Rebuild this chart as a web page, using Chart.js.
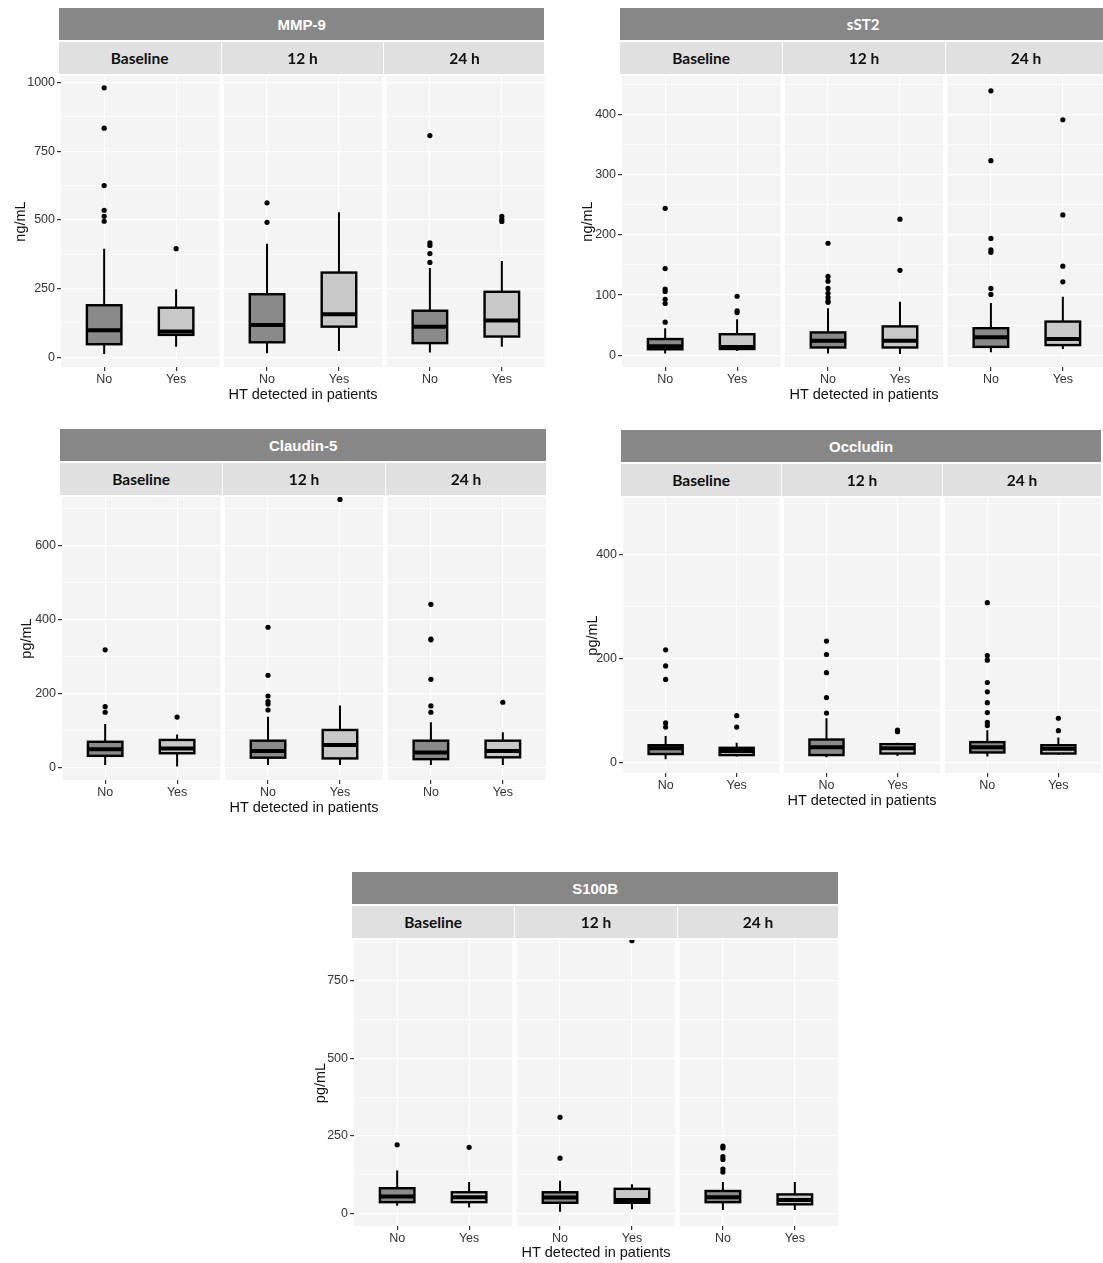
<!DOCTYPE html>
<html>
<head>
<meta charset="utf-8">
<script src="https://cdn.jsdelivr.net/npm/chart.js@4.4.0/dist/chart.umd.min.js"></script>
<style>
html, body { margin: 0; padding: 0; background: #fff; }
body { width: 1103px; height: 1263px; position: relative; overflow: hidden; }
canvas { position: absolute; }
.strip { position: absolute; display: flex; align-items: center; justify-content: center; font-weight: bold; font-size: 14px; }
.title { background: #878787; color: #fff; font-family: 'Liberation Sans', Arial, sans-serif; font-size: 15px; }
.facet { background: #e0e0e0; color: #111; font-family: Lato, 'Open Sans', sans-serif; font-size: 15.5px; }
</style>
</head>
<body>
<script>
// facets and groups
const timepoints = ['Baseline', '12 h', '24 h'];
const groups = ['No', 'Yes'];
const xTitle = 'HT detected in patients';

// each box: [whisker low, Q1, median, Q3, whisker high]
// order: Baseline No, Baseline Yes, 12 h No, 12 h Yes, 24 h No, 24 h Yes
const mmp9Boxes = [[11, 47, 98, 189, 395], [38, 81, 93, 180, 247], [14, 54, 117, 229, 413], [22, 111, 156, 308, 528], [17, 51, 111, 169, 325], [38, 75, 133, 238, 350]];
const mmp9Outliers = [[981, 834, 625, 535, 513, 495], [395], [562, 491], [], [807, 416, 407, 377, 345], [513, 502, 494]];
const mmp9Ticks = [0, 250, 500, 750, 1000];
const mmp9Minor = [125, 375, 625, 875];

const sst2Boxes = [[3, 10, 15, 27, 45], [7, 10.5, 14, 35, 60], [3, 13, 24, 38, 78], [2, 13, 24, 48, 89], [5, 14, 30, 45, 87], [10.5, 17, 27, 56, 97]];
const sst2Outliers = [[244, 144, 110, 106, 93, 86, 55], [98, 74, 71], [186, 131, 123, 111, 103, 96, 90, 88], [226, 141], [439, 323, 194, 175, 171, 111, 101], [391, 233, 148, 122]];
const sst2Ticks = [0, 100, 200, 300, 400];
const sst2Minor = [50, 150, 250, 350, 450];

const claudinBoxes = [[6, 31, 49, 69, 117], [2, 38, 51, 74, 89], [6, 26, 44, 72, 137], [6, 24, 60, 101, 167], [6, 22, 40, 72, 122], [6, 27, 44, 72, 95]];
const claudinOutliers = [[318, 164, 149], [136], [379, 249, 193, 178, 171, 155], [725], [441, 347, 345, 238, 166, 149], [176]];
const claudinTicks = [0, 200, 400, 600];
const claudinMinor = [100, 300, 500, 700];

const occludinBoxes = [[6, 16, 27, 33, 51], [11, 14, 22, 28, 38], [10, 14, 29, 44, 85], [12, 17, 27, 35, 38], [11, 19, 29, 39, 62], [14, 17, 26, 33, 48]];
const occludinOutliers = [[217, 186, 160, 76, 68], [90, 68], [234, 208, 173, 125, 95], [62, 59], [308, 206, 197, 154, 136, 115, 96, 77, 71], [85, 61]];
const occludinTicks = [0, 200, 400];
const occludinMinor = [100, 300, 500];

const s100bBoxes = [[24, 36, 54, 81, 138], [19, 36, 52, 68, 101], [5, 34, 51, 68, 105], [13, 34, 43, 79, 94], [11, 36, 52, 72, 101], [11, 29, 43, 61, 101]];
const s100bOutliers = [[221], [213], [310, 178], [880], [217, 211, 183, 174, 143, 133], []];
const s100bTicks = [0, 250, 500, 750];
const s100bMinor = [125, 375, 625, 875];

const GAP = 2.264; // facet spacing in x units
const boxFill = ['#8a8a8a', '#c8c8c8'];
const axisFont = "'Liberation Sans', Arial, sans-serif";
const TOPPAD = 10; // room above the plot for the top tick label

const panels = [
  { title: 'MMP-9', unit: 'ng/mL', boxes: mmp9Boxes, outliers: mmp9Outliers, ticks: mmp9Ticks, minor: mmp9Minor,
    min: -36, max: 1024, left: 60.5, top: 76, bottom: 367, u: 72, yTitleX: 20, xTitleY: 395 },
  { title: 'sST2', unit: 'ng/mL', boxes: sst2Boxes, outliers: sst2Outliers, ticks: sst2Ticks, minor: sst2Minor,
    min: -19.4, max: 463.6, left: 622, top: 76, bottom: 367, u: 72, yTitleX: 588, xTitleY: 395, calibri: true },
  { title: 'Claudin-5', unit: 'pg/mL', boxes: claudinBoxes, outliers: claudinOutliers, ticks: claudinTicks, minor: claudinMinor,
    min: -34.4, max: 731.5, left: 62, top: 497, bottom: 780, u: 72, yTitleX: 27, xTitleY: 808 },
  { title: 'Occludin', unit: 'pg/mL', boxes: occludinBoxes, outliers: occludinOutliers, ticks: occludinTicks, minor: occludinMinor,
    min: -20.6, max: 510, left: 623, top: 498, bottom: 773, u: 71, yTitleX: 593, xTitleY: 801 },
  { title: 'S100B', unit: 'pg/mL', boxes: s100bBoxes, outliers: s100bOutliers, ticks: s100bTicks, minor: s100bMinor,
    min: -41, max: 882.5, left: 354, top: 940, bottom: 1226, u: 72, yTitleX: 321, xTitleY: 1253 }
];

function facetX(k, j) { return k * GAP + 1 + j; }

function addStrip(cls, text, x, y, w, h, font) {
  const d = document.createElement('div');
  d.className = 'strip ' + cls;
  d.textContent = text;
  d.style.left = x + 'px';
  d.style.top = y + 'px';
  d.style.width = w + 'px';
  d.style.height = h + 'px';
  if (font) d.style.fontFamily = font;
  document.body.appendChild(d);
}

// panel backgrounds + boxes, drawn with the chart's own scales
function boxPlugin(boxes) {
  return {
    id: 'boxes',
    beforeDraw(chart) {
      const { ctx, chartArea: a, scales: { x } } = chart;
      ctx.save();
      ctx.fillStyle = '#f4f4f4';
      for (let k = 0; k < 3; k++) {
        const x0 = x.getPixelForValue(k * GAP + 0.4);
        const x1 = x.getPixelForValue(k * GAP + 2.6);
        ctx.fillRect(x0, a.top, x1 - x0, a.bottom - a.top);
      }
      ctx.restore();
    },
    beforeDatasetsDraw(chart) {
      const { ctx, chartArea: a, scales: { x, y } } = chart;
      ctx.save();
      ctx.beginPath();
      ctx.rect(a.left, a.top, a.right - a.left, a.bottom - a.top);
      ctx.clip();
      boxes.forEach((b, i) => {
        const k = Math.floor(i / 2), j = i % 2;
        const cx = x.getPixelForValue(facetX(k, j));
        const half = x.getPixelForValue(facetX(k, j) + 0.24) - cx;
        const [lo, q1, med, q3, hi] = b.map(v => y.getPixelForValue(v));
        ctx.strokeStyle = '#000';
        ctx.lineWidth = 2;
        ctx.beginPath();
        ctx.moveTo(cx, hi); ctx.lineTo(cx, q3);
        ctx.moveTo(cx, q1); ctx.lineTo(cx, lo);
        ctx.stroke();
        ctx.fillStyle = boxFill[j];
        ctx.fillRect(cx - half, q3, 2 * half, q1 - q3);
        ctx.lineWidth = 2.4;
        ctx.strokeRect(cx - half, q3, 2 * half, q1 - q3);
        ctx.lineWidth = 4;
        ctx.beginPath();
        ctx.moveTo(cx - half, med); ctx.lineTo(cx + half, med);
        ctx.stroke();
      });
      ctx.restore();
    }
  };
}

panels.forEach(p => {
  const right = p.left + (2 * GAP + 2.2) * p.u;
  const cLeft = p.left - 62;
  const cTop = p.top - TOPPAD;
  const cW = Math.round(right - cLeft);
  const cH = p.xTitleY + 12 - cTop;
  const canvas = document.createElement('canvas');
  canvas.width = cW;
  canvas.height = cH;
  canvas.style.left = cLeft + 'px';
  canvas.style.top = cTop + 'px';
  document.body.appendChild(canvas);

  const points = [];
  p.outliers.forEach((list, i) => {
    list.forEach(v => points.push({ x: facetX(Math.floor(i / 2), i % 2), y: v }));
  });
  const catTicks = [];
  for (let k = 0; k < 3; k++) {
    groups.forEach((g, j) => catTicks.push({ value: facetX(k, j), label: g }));
  }
  const yTicks = p.ticks.map(v => ({ value: v, minor: false }))
    .concat(p.minor.filter(v => v < p.max).map(v => ({ value: v, minor: true })))
    .sort((a, b) => a.value - b.value);

  const chart = new Chart(canvas, {
    type: 'scatter',
    data: {
      datasets: [{
        data: points,
        pointRadius: 2.6,
        pointBackgroundColor: '#000',
        pointBorderWidth: 0,
        pointHoverRadius: 2.6
      }]
    },
    options: {
      responsive: false,
      animation: false,
      events: [],
      layout: { padding: { top: TOPPAD, left: 0, right: 0, bottom: 0 }, autoPadding: false },
      plugins: { legend: { display: false }, tooltip: { enabled: false } },
      scales: {
        x: {
          type: 'linear',
          min: 0.4,
          max: 2 * GAP + 2.6,
          afterBuildTicks: s => { s.ticks = catTicks.map(t => ({ value: t.value })); },
          afterFit: s => {
            s.height = p.xTitleY + 12 - p.bottom;
            s.paddingLeft = 0; s.paddingRight = 0; s.paddingTop = 0; s.paddingBottom = 0;
          },
          ticks: {
            callback: (v, i) => catTicks[i].label,
            font: { family: axisFont, size: 12.5 },
            color: '#333',
            padding: 1,
            autoSkip: false,
            maxRotation: 0
          },
          grid: { color: '#ffffff', lineWidth: 1.2, tickColor: '#333', tickLength: 4 },
          border: { display: false },
          title: {
            display: true, text: xTitle, color: '#111',
            font: { family: axisFont, size: 14.5 },
            padding: { top: 0, bottom: 3.4 }
          }
        },
        y: {
          type: 'linear',
          min: p.min,
          max: p.max,
          afterBuildTicks: s => { s.ticks = yTicks.map(t => ({ value: t.value, minor: t.minor })); },
          afterFit: s => {
            s.width = 62;
            s.paddingTop = 0; s.paddingBottom = 0; s.paddingLeft = 0; s.paddingRight = 0;
          },
          ticks: {
            callback: (v, i, ticks) => ticks[i].minor ? '' : String(v),
            font: { family: axisFont, size: 12.5 },
            color: '#333',
            padding: 2,
            autoSkip: false
          },
          grid: {
            color: '#ffffff',
            lineWidth: c => (c.tick && c.tick.minor) ? 0.6 : 1.2,
            tickColor: c => (c.tick && c.tick.minor) ? 'rgba(0,0,0,0)' : '#333',
            tickLength: 4
          },
          border: { display: false },
          title: {
            display: true, text: p.unit, color: '#111',
            font: { family: axisFont, size: 14.5 },
            padding: { top: p.yTitleX - cLeft - 8.7, bottom: 0 }
          }
        }
      }
    },
    plugins: [boxPlugin(p.boxes)]
  });

  const xs = chart.scales.x;
  const px = v => cLeft + xs.getPixelForValue(v);
  const edges = [];
  for (let k = 0; k < 3; k++) {
    edges.push([px(k * GAP + 0.4) - 1.8, px(k * GAP + 2.6) + (k < 2 ? 1.8 : 0)]);
  }
  addStrip('title', p.title, edges[0][0], p.top - 68, edges[2][1] - edges[0][0], 32, p.calibri ? "Lato, 'Open Sans', sans-serif" : null);
  edges.forEach((e, k) => addStrip('facet', timepoints[k], e[0], p.top - 34, e[1] - e[0], 32));
});
</script>
</body>
</html>
